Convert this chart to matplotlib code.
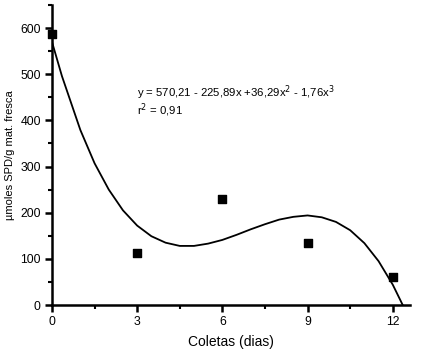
import matplotlib
matplotlib.use('Agg')
import matplotlib.pyplot as plt
from matplotlib.ticker import MultipleLocator

plt.rcParams['font.family'] = ['Liberation Sans', 'DejaVu Sans']

# measured points
dias = [0, 3, 6, 9, 12]
spd = [587, 113, 230, 134, 60]

# fitted curve
curva_x = [0, 0.35, 1.0, 1.5, 2.0, 2.5, 3.0, 3.5, 4.0, 4.5, 5.0, 5.5, 6.0, 6.5,
           7.0, 7.5, 8.0, 8.5, 9.0, 9.5, 10.0, 10.5, 11.0, 11.5, 12.0, 12.35]
curva_y = [570, 496, 379, 307, 250, 205, 172, 149, 135, 128, 128, 133, 141, 152,
           164, 175, 185, 191, 194, 190, 180, 162, 134, 95, 44, 0]

fig = plt.figure(figsize=(4.26, 3.52), dpi=100)
ax = fig.add_axes([0.122, 0.1335, 0.84, 0.8525])

ax.plot(curva_x, curva_y, color='black', lw=1.3)
ax.scatter(dias, spd, marker='s', s=26, color='black', zorder=3, clip_on=False)

ax.set_xlim(0, 12.6)
ax.set_ylim(0, 650)
ax.xaxis.set_major_locator(MultipleLocator(3))
ax.xaxis.set_minor_locator(MultipleLocator(1.5))
ax.yaxis.set_major_locator(MultipleLocator(100))
ax.yaxis.set_minor_locator(MultipleLocator(50))

for s in ['top', 'right']:
    ax.spines[s].set_visible(False)
for s in ['left', 'bottom']:
    ax.spines[s].set_linewidth(1.8)

ax.tick_params(which='major', direction='out', length=5, width=1.8, labelsize=8.8, pad=3)
ax.tick_params(which='minor', direction='out', length=3, width=1.5)

ax.set_xlabel('Coletas (dias)', fontsize=10, labelpad=5)
ax.set_ylabel('µmoles SPD/g mat. fresca', fontsize=8, labelpad=4)

ax.text(3.0, 452, 'y = 570,21 - 225,89x +36,29x$^2$ - 1,76x$^3$', fontsize=8.2)
ax.text(3.0, 414, 'r$^2$ = 0,91', fontsize=8.2)

fig.savefig('out.png', dpi=100)
